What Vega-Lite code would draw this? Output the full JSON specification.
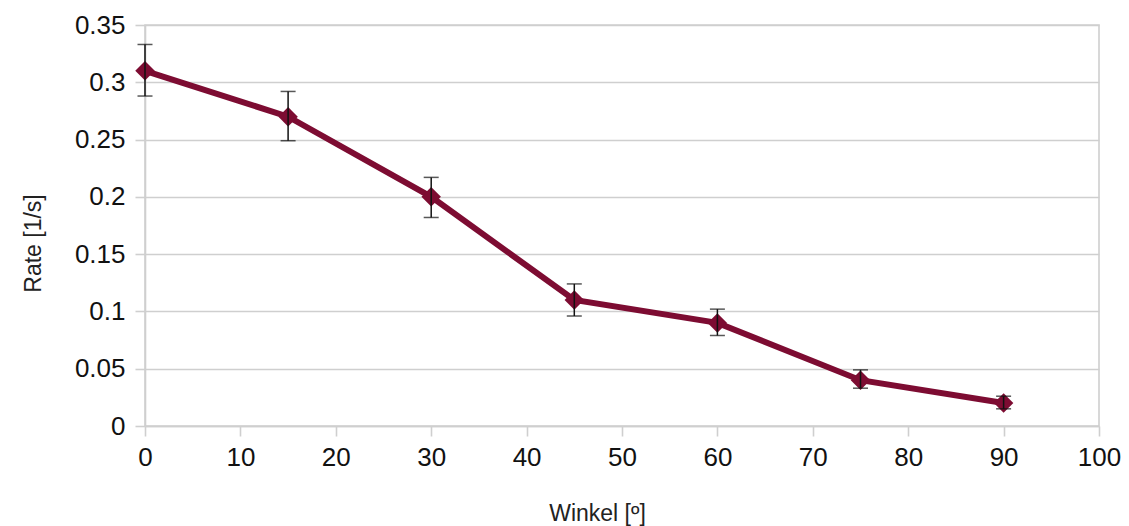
{
  "$schema": "https://vega.github.io/schema/vega-lite/v6.json",
  "width": 954,
  "height": 401,
  "autosize": {"type": "none"},
  "padding": {"left": 145, "top": 25, "right": 30, "bottom": 100},
  "background": "white",
  "config": {
    "view": {"stroke": "#cfcfcf", "strokeWidth": 1.6},
    "font": "Liberation Sans",
    "axis": {
      "gridColor": "#cfcfcf",
      "gridWidth": 1.6,
      "domainColor": "#cfcfcf",
      "domainWidth": 1.6,
      "tickColor": "#cfcfcf",
      "tickWidth": 1.6,
      "tickSize": 10,
      "labelFont": "Liberation Sans",
      "labelFontSize": 26,
      "labelColor": "#111111",
      "titleFont": "Liberation Sans",
      "titleFontWeight": "normal",
      "titleColor": "#222222"
    }
  },
  "data": {
    "values": [
      {"winkel": 0, "rate": 0.31, "lower": 0.288, "upper": 0.333},
      {"winkel": 15, "rate": 0.27, "lower": 0.249, "upper": 0.292},
      {"winkel": 30, "rate": 0.20, "lower": 0.182, "upper": 0.217},
      {"winkel": 45, "rate": 0.11, "lower": 0.096, "upper": 0.124},
      {"winkel": 60, "rate": 0.09, "lower": 0.079, "upper": 0.102},
      {"winkel": 75, "rate": 0.04, "lower": 0.033, "upper": 0.049},
      {"winkel": 90, "rate": 0.02, "lower": 0.015, "upper": 0.026}
    ]
  },
  "layer": [
    {
      "mark": {"type": "line", "color": "#7d0c32", "strokeWidth": 6},
      "encoding": {
        "x": {
          "field": "winkel", "type": "quantitative",
          "title": "Winkel [º]",
          "scale": {"domain": [0, 100], "nice": false},
          "axis": {
            "values": [0, 10, 20, 30, 40, 50, 60, 70, 80, 90, 100],
            "grid": false,
            "labelFlush": false,
            "titleFontSize": 23,
            "titleX": 452,
            "titleY": 94,
            "titleBaseline": "alphabetic",
            "labelPadding": 8
          }
        },
        "y": {
          "field": "rate", "type": "quantitative",
          "title": "Rate [1/s]",
          "scale": {"domain": [0, 0.35], "nice": false},
          "axis": {
            "values": [0, 0.05, 0.1, 0.15, 0.2, 0.25, 0.3, 0.35],
            "format": "~g",
            "titleFontSize": 23,
            "titleAngle": -90,
            "titleX": -105,
            "titleY": 218,
            "titleBaseline": "alphabetic",
            "labelPadding": 10
          }
        }
      }
    },
    {
      "mark": {"type": "point", "shape": "diamond", "filled": true, "size": 380, "color": "#7d0c32", "opacity": 1},
      "encoding": {
        "x": {"field": "winkel", "type": "quantitative", "title": "Winkel [º]"},
        "y": {"field": "rate", "type": "quantitative", "title": "Rate [1/s]"}
      }
    },
    {
      "mark": {"type": "errorbar", "color": "#111111", "thickness": 1.5, "ticks": {"size": 15, "thickness": 1.5, "color": "#111111"}},
      "encoding": {
        "x": {"field": "winkel", "type": "quantitative", "title": "Winkel [º]"},
        "y": {"field": "lower", "type": "quantitative", "title": "Rate [1/s]"},
        "y2": {"field": "upper"}
      }
    }
  ]
}
